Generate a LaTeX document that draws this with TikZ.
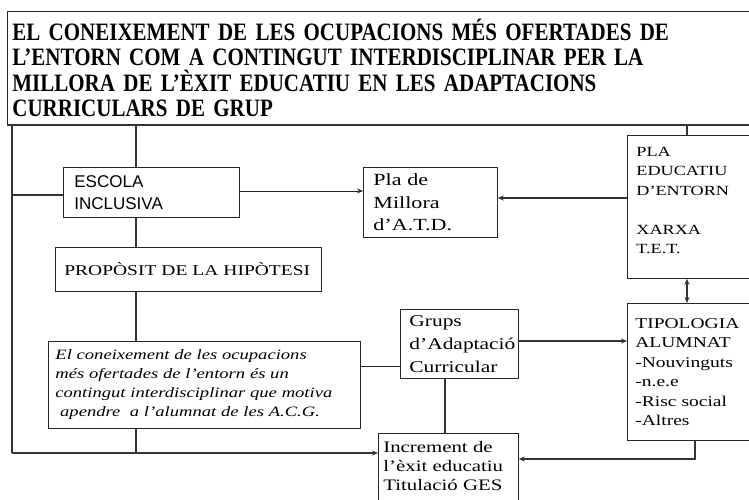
\documentclass[tikz,border=0pt]{standalone}
\usepackage{fontspec}
\setmainfont[FakeStretch=1.3]{Liberation Serif}
\newfontfamily\titlefont[FakeStretch=0.84]{Liberation Serif}
\newfontfamily\escolafont{Liberation Sans}
\usetikzlibrary{arrows.meta}
\tikzset{
  box/.style={draw=black!85, line width=0.8pt, rectangle, anchor=north west,
    inner ysep=0pt, align=left},
  conn/.style={draw=black!80, line width=1.6pt},
  thin conn/.style={draw=black!85, line width=0.9pt},
  arr/.style={conn, -{Stealth[length=6pt,width=5pt]}},
  thin arr/.style={thin conn, -{Stealth[length=6pt,width=5pt]}},
  dbl arr/.style={conn, {Stealth[length=6pt,width=5pt]}-{Stealth[length=6pt,width=5pt]}},
}
\begin{document}
\begin{tikzpicture}[x=1pt,y=-1pt]
\useasboundingbox (0,0) rectangle (749,500);

% title
\node[box, minimum width=760pt, minimum height=113pt, text width=750pt, inner xsep=5pt,
  font=\titlefont\bfseries\fontsize{25}{25.3}\selectfont]
  (title) at (7,11)
  {EL CONEIXEMENT DE LES OCUPACIONS MÉS OFERTADES DE\\
   L’ENTORN COM A CONTINGUT INTERDISCIPLINAR PER LA\\
   MILLORA DE L’ÈXIT EDUCATIU EN LES ADAPTACIONS\\
   CURRICULARS DE GRUP};
\draw[conn] (title.south west) -- (title.south east);

% boxes
\node[box, minimum width=176pt, minimum height=50pt, text width=154pt, inner xsep=11pt,
  font=\escolafont\fontsize{17}{22}\selectfont]
  (escola) at (63,167) {ESCOLA\\INCLUSIVA};
\node[box, minimum width=134pt, minimum height=70pt, text width=114pt, inner xsep=10pt,
  font=\fontsize{17}{22.5}\selectfont]
  (millora) at (363,167) {Pla de\\Millora\\d’A.T.D.};
\node[box, minimum width=126pt, minimum height=143pt, text width=108pt, inner xsep=9pt,
  font=\fontsize{14}{19.5}\selectfont]
  (pla) at (627,135) {PLA\\EDUCATIU\\D’ENTORN\\\mbox{}\\XARXA\\T.E.T.\\[-6pt]\mbox{}};
\node[box, minimum width=266pt, minimum height=44pt, text width=248pt, inner xsep=9pt,
  font=\fontsize{15}{19}\selectfont]
  (prop) at (55,247) {PROPÒSIT DE LA HIPÒTESI};
\node[box, minimum width=312pt, minimum height=87pt, text width=298pt, inner xsep=7pt,
  font=\itshape\fontsize{14.3}{19}\selectfont]
  (hyp) at (48,341)
  {El coneixement de les ocupacions\\
   més ofertades de l’entorn és un\\
   contingut interdisciplinar que motiva\\
   \ apendre\ \ a l’alumnat de les A.C.G.};
\node[box, minimum width=118pt, minimum height=69pt, text width=100pt, inner xsep=9pt,
  font=\fontsize{16.5}{23}\selectfont]
  (grups) at (400,309) {Grups\\d’Adaptació\\Curricular};
\node[box, minimum width=126pt, minimum height=137pt, text width=110pt, inner xsep=8pt,
  font=\fontsize{15}{19.5}\selectfont]
  (tip) at (627,303) {TIPOLOGIA\\ALUMNAT\\-Nouvinguts\\-n.e.e\\-Risc social\\-Altres};
\node[box, minimum width=140pt, minimum height=80pt, text width=130pt, inner xsep=5pt,
  font=\fontsize{16}{19}\selectfont]
  (incr) at (378,433) {Increment de\\l’èxit educatiu\\Titulació GES\\[-4pt]\mbox{}};

% reference coordinates
\coordinate (spine) at (136,0);
\coordinate (rsp) at (687,0);
\coordinate (bl) at (12,453);
\coordinate (lh) at (0,195);
\coordinate (ah) at (0,191);
\coordinate (ph) at (0,198);
\coordinate (hg) at (0,366);
\coordinate (gx) at (445,0);
\coordinate (gt) at (0,341);
\coordinate (tc) at (695,459);

% frame and spine
\draw[conn] (title.south -| bl) -- (bl);
\draw[arr] (bl) -- (bl -| incr.west);
\draw[conn] (lh -| bl) -- (lh -| escola.west);
\draw[conn] (title.south -| spine) -- (escola.north -| spine);
\draw[conn] (escola.south -| spine) -- (prop.north -| spine);
\draw[conn] (prop.south -| spine) -- (hyp.north -| spine);
\draw[conn] (hyp.south -| spine) -- (bl -| spine);

% right side
\draw[conn] (title.south -| rsp) -- (pla.north -| rsp);
\draw[arr] (ph -| pla.west) -- (ph -| millora.east);
\draw[thin arr] (ah -| escola.east) -- (ah -| millora.west);
\draw[dbl arr] (pla.south -| rsp) -- (tip.north -| rsp);
\draw[arr] (gt -| grups.east) -- (gt -| tip.west);
\draw[thin conn] (hg -| hyp.east) -- (hg -| grups.west);
\draw[conn] (grups.south -| gx) -- (incr.north -| gx);
\draw[arr] (tip.south -| tc) -- (tc) -- (tc -| incr.east);
\end{tikzpicture}
\end{document}
